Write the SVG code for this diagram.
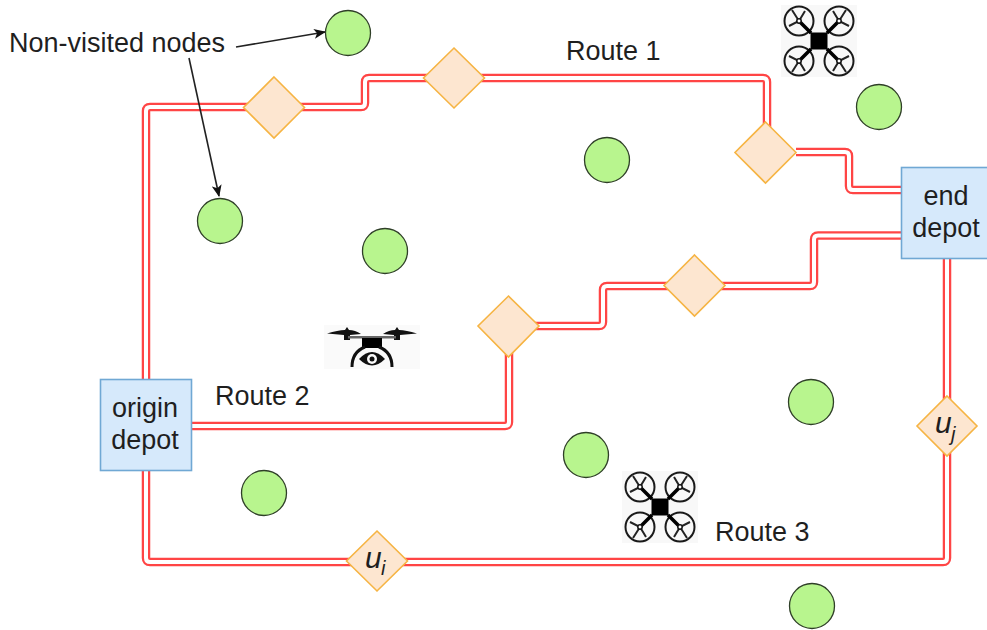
<svg xmlns="http://www.w3.org/2000/svg" width="987" height="630" viewBox="0 0 987 630">
<style>
text{font-family:"Liberation Sans",Arial,sans-serif;font-size:27px;fill:#1f1f1f}
.m{text-anchor:middle}
.i{font-style:italic;font-size:30px}
.s{font-size:20px;font-style:italic}
.c{fill:#b8f58e;stroke:#2f3f28;stroke-width:1.300}
.d{fill:#fde6d0;stroke:#f6b443;stroke-width:1.600}
.b{fill:#d6e9fb;stroke:#70a8d4;stroke-width:1.600}
.ro{fill:none;stroke:#ff4545;stroke-width:8.500;stroke-linejoin:round}
.ri{fill:none;stroke:#fff;stroke-width:4;stroke-linejoin:round}
.a{fill:none;stroke:#222;stroke-width:1.600}
.dk{fill:none;stroke:#1a1a1a;stroke-width:2}
.sp{stroke:#222;stroke-width:2;fill:none}
.ar{stroke:#000;stroke-width:3.500;fill:none}
</style>
<defs>
<marker id="ah" markerWidth="12" markerHeight="10" refX="11" refY="5" orient="auto" markerUnits="userSpaceOnUse"><path d="M0 0L12 5L0 10L3 5Z" fill="#111"/></marker>
<g id="rotor">
<circle class="dk" cx="-20" cy="-20" r="14.500"/>
<path class="sp" d="M-30-15L-20-20L-14-30M-20-20L-27-31M-20-20L-8-8"/>
<path class="ar" d="M-20-20L-8-8"/>
<circle cx="-20" cy="-20" r="2.200" fill="#fff" stroke="#111" stroke-width="1.500"/>
</g>
<g id="quad">
<rect x="-38" y="-36" width="76" height="72" fill="#f8f8f8"/>
<use href="#rotor"/>
<use href="#rotor" transform="scale(-1 1)"/>
<use href="#rotor" transform="scale(1 -1)"/>
<use href="#rotor" transform="scale(-1 -1)"/>
<rect x="-8.500" y="-8.500" width="17" height="17" fill="#000"/>
</g>
</defs>
<g id="connectors">
<path id="route1" class="ro" d="M146 380V111Q146 107 150 107H361Q365 107 365 103V82Q365 78 369 78H763Q767 78 767 82V153"/>
<path class="ri" d="M146 380V111Q146 107 150 107H361Q365 107 365 103V82Q365 78 369 78H763Q767 78 767 82V153"/>
<path class="ro" d="M796 152H845Q849 152 849 156V186Q849 190 853 190H902"/>
<path class="ri" d="M796 152H845Q849 152 849 156V186Q849 190 853 190H902"/>
<path id="route2" class="ro" d="M191 426H505Q509 426 509 422V330Q509 326 513 326H599Q603 326 603 322V290Q603 286 607 286H810Q814 286 814 282V239.500Q814 235.500 818 235.500H902"/>
<path class="ri" d="M191 426H505Q509 426 509 422V330Q509 326 513 326H599Q603 326 603 322V290Q603 286 607 286H810Q814 286 814 282V239.500Q814 235.500 818 235.500H902"/>
<path id="route3" class="ro" d="M146 470V558Q146 562 150 562H943Q947 562 947 558V259"/>
<path class="ri" d="M146 470V558Q146 562 150 562H943Q947 562 947 558V259"/>
<path class="a" marker-end="url(#ah)" d="M236 47L325 32"/>
<path class="a" marker-end="url(#ah)" d="M189 58L219 196"/>
</g>
<g id="circles">
<circle id="n1" class="c" cx="348" cy="33" r="22.500"/>
<circle id="n2" class="c" cx="879" cy="107" r="22.500"/>
<circle id="n3" class="c" cx="607" cy="160" r="22.500"/>
<circle id="n4" class="c" cx="220" cy="221" r="22.500"/>
<circle id="n5" class="c" cx="385" cy="251" r="22.500"/>
<circle id="n6" class="c" cx="811" cy="402" r="22.500"/>
<circle id="n7" class="c" cx="586" cy="455" r="22.500"/>
<circle id="n8" class="c" cx="264" cy="493" r="22.500"/>
<circle id="n9" class="c" cx="812" cy="606" r="22.500"/>
</g>
<g id="d1"><path class="d" d="M274 77L304.500 107.500L274 138L243.500 107.500Z"/></g>
<g id="d2"><path class="d" d="M454 48L484.500 78L454 108L423.500 78Z"/></g>
<g id="d3"><path class="d" d="M765.500 122L796 152.500L765.500 183L735 152.500Z"/></g>
<g id="d4"><path class="d" d="M694.500 255L725 285.500L694.500 316L664 285.500Z"/></g>
<g id="d5"><path class="d" d="M508.500 296L539 326L508.500 357L478 326Z"/></g>
<g id="ui"><path class="d" d="M377 531L407.500 561L377 591L346.500 561Z"/><text class="i" x="365" y="568">u</text><text class="s" x="381" y="575">i</text></g>
<g id="uj"><path class="d" d="M947 396L977 426L947 456L917 426Z"/><text class="i" x="935" y="433">u</text><text class="s" x="951" y="441">j</text></g>
<g id="origin"><rect class="b" x="100.500" y="379.500" width="91" height="91"/><text class="m" x="145" y="417">origin</text><text class="m" x="145" y="449">depot</text></g>
<g id="end"><rect class="b" x="901.500" y="167.500" width="91" height="91"/><text class="m" x="946" y="205">end</text><text class="m" x="946" y="237">depot</text></g>
<g id="labels">
<text x="9" y="52">Non-visited nodes</text>
<text x="566" y="60">Route 1</text>
<text x="215" y="405">Route 2</text>
<text x="715" y="541">Route 3</text>
</g>
<use id="quad1" href="#quad" x="819" y="41"/>
<use id="quad2" href="#quad" x="660" y="507"/>
<g id="camdrone">
<rect x="324" y="325" width="96" height="44" fill="#fafafa"/>
<path d="M327 333.500Q338 330 345 330L347 327L349 330Q355 330 361 334L350 335V340H344V335ZM417 333.500Q406 330 399 330L397 327L395 330Q389 330 383 334L394 335V340H400V335Z" fill="#111"/>
<rect x="348" y="336" width="48" height="2.500" fill="#666"/>
<path d="M362 338H382V348H362Z" fill="#000"/>
<path d="M352 367Q352 352 365 347M392 367Q392 352 379 347" fill="none" stroke="#111" stroke-width="3"/>
<path d="M359 359Q372 345 385 359Q372 372 359 359Z" fill="#111"/>
<circle cx="372" cy="359" r="5" fill="#fafafa"/><circle cx="372" cy="359" r="2.500" fill="#111"/>
</g>
</svg>
